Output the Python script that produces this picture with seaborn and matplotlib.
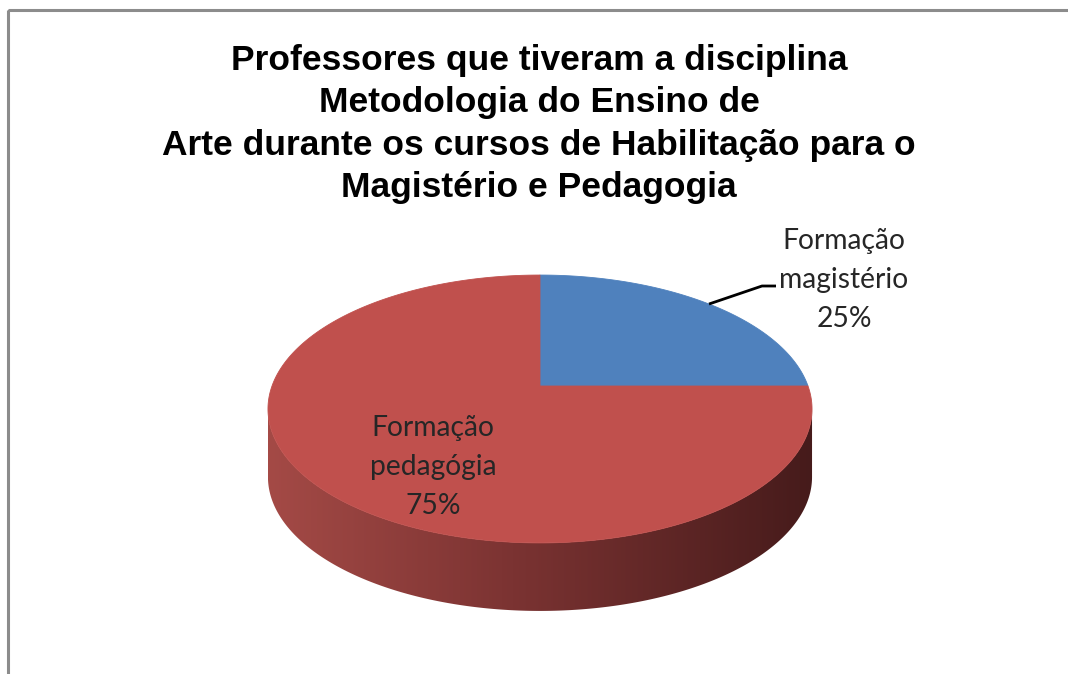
import numpy as np
import matplotlib
matplotlib.use("Agg")
import matplotlib.pyplot as plt
import seaborn as sns
from matplotlib.patches import Polygon, Rectangle
from matplotlib.colors import LinearSegmentedColormap

# ---- data ----
categories = ["Formação\nmagistério", "Formação\npedagógia"]
values = [25, 75]
colors = ["#4F81BD", "#C0504D"]
title = ("Professores que tiveram a disciplina\nMetodologia do Ensino de\n"
         "Arte durante os cursos de Habilitação para o\nMagistério e Pedagogia")

sns.set_theme(style="white")
plt.rcParams['font.family'] = ['Liberation Sans', 'DejaVu Sans']

W, H = 1068, 674
fig = plt.figure(figsize=(W / 100, H / 100), dpi=100)
fig.patch.set_facecolor("white")
ax = fig.add_axes([0, 0, 1, 1])

# library pie (used for the wedge angles); projected to a 3D-like view below
wedges, _ = ax.pie(values, colors=colors, startangle=90, counterclock=False, radius=1.0)
for w in wedges:
    w.set_visible(False)

# perspective projection of the unit pie onto the page
X0, Y0, A, B, c, DEPTH = 540, 386, 130, 268, 0.1716, 68


def proj(u, v):
    d = 1 + c * v
    return X0 + B * u / d, Y0 - A * v / d


# side (extrusion) of the pie, visible front half
a0 = np.degrees(np.arcsin(c))
th = np.radians(np.linspace(180 + a0, 360 - a0, 400))
tx, ty = proj(np.cos(th), np.sin(th))
side_pts = np.vstack([np.column_stack([tx, ty]),
                      np.column_stack([tx[::-1], ty[::-1] + DEPTH])])
side_poly = Polygon(side_pts, closed=True, facecolor="none", edgecolor="none", zorder=1)
ax.add_patch(side_poly)
cmap = LinearSegmentedColormap.from_list(
    "side", [(0.0, "#A44A46"), (0.45, "#7B3332"), (1.0, "#461B1B")])
grad = np.linspace(0, 1, 512)[None, :]
im = ax.imshow(grad, extent=(tx.min(), tx.max(), ty.max() + DEPTH, ty.min()),
               cmap=cmap, aspect="auto", zorder=1, interpolation="bilinear")
im.set_clip_path(side_poly)

# top face wedges
for w in wedges:
    t = np.radians(np.linspace(w.theta1, w.theta2, 300))
    px, py = proj(np.cos(t), np.sin(t))
    pts = np.vstack([[proj(0, 0)], np.column_stack([px, py])])
    ax.add_patch(Polygon(pts, closed=True, facecolor=w.get_facecolor(),
                         edgecolor=w.get_facecolor(), lw=0.6, zorder=3))

total = sum(values)
lab = [f"{categories[i]}\n{values[i] / total * 100:.0f}%" for i in range(len(values))]

# label for first slice (outside, with leader line)
w0 = wedges[0]
mid = np.radians((w0.theta1 + w0.theta2) / 2)
sx, sy = proj(np.cos(mid), np.sin(mid))
ax.plot([sx, 762, 776], [sy, 286, 286], color="black", lw=2, zorder=4,
        solid_capstyle="butt")
ax.text(844, 280, lab[0], ha="center", va="center", fontsize=20.3,
        family=["Lato", "DejaVu Sans"], color="#262626", linespacing=1.6, zorder=5)
# label for second slice (inside)
ax.text(433, 467, lab[1], ha="center", va="center", fontsize=20.3,
        family=["Lato", "DejaVu Sans"], color="#262626", linespacing=1.6, zorder=5)

# title
ax.text(539, 124, title, ha="center", va="center", fontsize=25.5, fontweight="bold",
        color="black", linespacing=1.37, zorder=5)

# chart frame (only top and left visible in the crop)
ax.add_patch(Rectangle((8, 10), 1200, 800, fill=False, edgecolor="#8C8C8C", lw=2.2,
                       zorder=6))

ax.set_aspect("auto")
ax.set_xlim(0, W)
ax.set_ylim(H, 0)
ax.axis("off")

fig.savefig("out.png", dpi=100, facecolor="white")
